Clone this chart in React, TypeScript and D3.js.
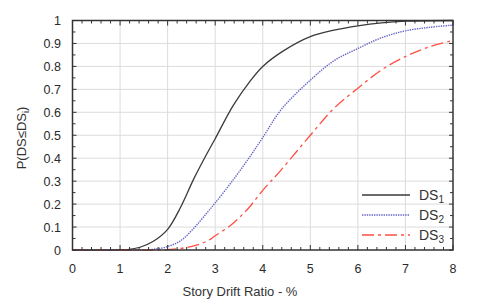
import * as React from "react";
import * as d3 from "d3";

// values
const ds1X = [0, 1, 1.2, 1.42, 1.7, 2, 2.27, 2.55, 2.84, 3, 3.38, 3.75, 4, 4.45, 5, 5.5, 6, 6.5, 7, 8];
const ds1Y = [0, 0, 0.003, 0.012, 0.038, 0.09, 0.185, 0.31, 0.425, 0.485, 0.63, 0.74, 0.8, 0.87, 0.93, 0.958, 0.977, 0.99, 0.997, 1];

const ds2X = [0, 1.5, 1.7, 2, 2.27, 2.55, 2.84, 3, 3.34, 3.69, 4, 4.4, 5, 5.5, 6, 6.5, 7, 7.5, 8];
const ds2Y = [0, 0, 0.003, 0.015, 0.04, 0.095, 0.165, 0.205, 0.295, 0.395, 0.49, 0.615, 0.74, 0.825, 0.878, 0.925, 0.955, 0.97, 0.98];

const ds3X = [0, 1.8, 2.2, 2.55, 2.84, 3, 3.34, 3.69, 4, 4.37, 5, 5.5, 6, 6.5, 7, 7.5, 8];
const ds3Y = [0, 0, 0.005, 0.018, 0.04, 0.062, 0.11, 0.18, 0.26, 0.345, 0.5, 0.618, 0.705, 0.785, 0.843, 0.885, 0.913];

const seriesNames = ["1", "2", "3"];
const xTicks = [0, 1, 2, 3, 4, 5, 6, 7, 8];
const yTicks = [0, 0.1, 0.2, 0.3, 0.4, 0.5, 0.6, 0.7, 0.8, 0.9, 1];

const Chart = () => {
  const svgRef = React.useRef<SVGSVGElement>(null);

  React.useEffect(() => {
    const width = 480;
    const height = 308;
    const left = 72.5;
    const right = 453;
    const top = 20.5;
    const bottom = 250;

    const svg = d3.select(svgRef.current).attr("width", width).attr("height", height);
    svg.selectAll("*").remove();

    const x = d3.scaleLinear().domain([0, 8]).range([left, right]);
    const y = d3.scaleLinear().domain([0, 1]).range([bottom, top]);

    const font = "'Liberation Sans', Arial, sans-serif";

    // grid
    const grid = svg.append("g").attr("stroke", "#dcdcdc").attr("stroke-width", 1);
    xTicks.slice(1, -1).forEach((t) => {
      grid.append("line").attr("x1", x(t)).attr("x2", x(t)).attr("y1", top).attr("y2", bottom);
    });
    yTicks.slice(1, -1).forEach((t) => {
      grid.append("line").attr("x1", left).attr("x2", right).attr("y1", y(t)).attr("y2", y(t));
    });

    // curves
    const line = d3
      .line<[number, number]>()
      .x((d) => x(d[0]))
      .y((d) => y(d[1]))
      .curve(d3.curveCatmullRom.alpha(0.5));

    const series = [
      { xs: ds1X, ys: ds1Y, color: "#3a3a3a", dash: null, w: 1.3 },
      { xs: ds2X, ys: ds2Y, color: "#6565c8", dash: "1.4 1", w: 1.4 },
      { xs: ds3X, ys: ds3Y, color: "#ff4f45", dash: "12 4 3 4", w: 1.3 },
    ];

    series.forEach((s) => {
      const pts = s.xs.map((v, i) => [v, s.ys[i]] as [number, number]);
      svg
        .append("path")
        .attr("d", line(pts))
        .attr("fill", "none")
        .attr("stroke", s.color)
        .attr("stroke-width", s.w)
        .attr("stroke-dasharray", s.dash);
    });

    // frame
    svg
      .append("rect")
      .attr("x", left)
      .attr("y", top)
      .attr("width", right - left)
      .attr("height", bottom - top)
      .attr("fill", "none")
      .attr("stroke", "#333")
      .attr("stroke-width", 1.5);

    // inward ticks
    const ticks = svg.append("g").attr("stroke", "#333").attr("stroke-width", 1);
    d3.range(0, 8.001, 0.2).forEach((t) => {
      const major = Math.abs(t - Math.round(t)) < 1e-6;
      const len = major ? 5 : 3;
      ticks.append("line").attr("x1", x(t)).attr("x2", x(t)).attr("y1", bottom).attr("y2", bottom - len);
      ticks.append("line").attr("x1", x(t)).attr("x2", x(t)).attr("y1", top).attr("y2", top + len);
    });
    d3.range(0, 1.0001, 0.05).forEach((t, i) => {
      const len = i % 2 === 0 ? 4 : 3;
      ticks.append("line").attr("x1", left).attr("x2", left + len).attr("y1", y(t)).attr("y2", y(t));
      ticks.append("line").attr("x1", right).attr("x2", right - len).attr("y1", y(t)).attr("y2", y(t));
    });

    // tick labels
    svg
      .append("g")
      .selectAll("text")
      .data(xTicks)
      .enter()
      .append("text")
      .attr("x", (d) => x(d))
      .attr("y", 273)
      .attr("text-anchor", "middle")
      .attr("font-family", font)
      .attr("font-size", 12.5)
      .attr("fill", "#2a2a2a")
      .text((d) => d);

    svg
      .append("g")
      .selectAll("text")
      .data(yTicks)
      .enter()
      .append("text")
      .attr("x", 61)
      .attr("y", (d) => y(d) + 4.5)
      .attr("text-anchor", "end")
      .attr("font-family", font)
      .attr("font-size", 12.5)
      .attr("fill", "#2a2a2a")
      .text((d) => (d === 0 || d === 1 ? d : d.toFixed(1)));

    // axis titles
    svg
      .append("text")
      .attr("x", 240)
      .attr("y", 296)
      .attr("text-anchor", "middle")
      .attr("font-family", font)
      .attr("font-size", 13)
      .attr("fill", "#333")
      .text("Story Drift Ratio - %");

    const yTitle = svg
      .append("text")
      .attr("transform", "translate(26 138) rotate(-90)")
      .attr("text-anchor", "middle")
      .attr("font-family", font)
      .attr("font-size", 13)
      .attr("fill", "#333");
    yTitle.append("tspan").text("P(DS≤DS");
    yTitle.append("tspan").attr("font-size", 9).attr("dy", 3).text("i");
    yTitle.append("tspan").attr("dy", -3).text(")");

    // legend
    const legend = svg.append("g");
    series.forEach((s, i) => {
      const ly = 195 + i * 20;
      legend
        .append("line")
        .attr("x1", 362)
        .attr("x2", 410)
        .attr("y1", ly)
        .attr("y2", ly)
        .attr("stroke", s.color)
        .attr("stroke-width", s.w)
        .attr("stroke-dasharray", s.dash);
      const t = legend
        .append("text")
        .attr("x", 419)
        .attr("y", ly + 5)
        .attr("font-family", font)
        .attr("font-size", 14)
        .attr("fill", "#333");
      t.append("tspan").text("DS");
      t.append("tspan").attr("font-size", 10).attr("dy", 3).text(seriesNames[i]);
    });
  }, []);

  return <svg ref={svgRef} style={{ position: "absolute", left: 0, top: 0, background: "#fff" }} />;
};

export default function App() {
  return <Chart />;
}
